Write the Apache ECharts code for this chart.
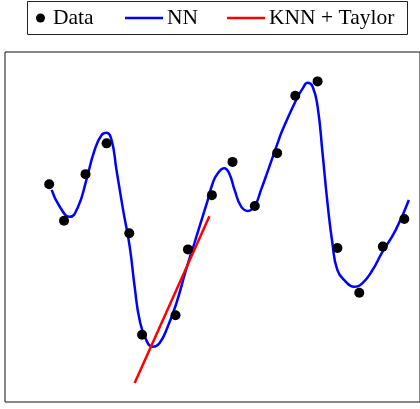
<!DOCTYPE html>
<html>
<head>
<meta charset="utf-8">
<title>NN vs KNN + Taylor</title>
<script src="https://cdn.jsdelivr.net/npm/echarts@6/dist/echarts.min.js"></script>
<style>
  html, body { margin: 0; padding: 0; background: #fff; }
  #chart { width: 420px; height: 409px; }
</style>
</head>
<body>
<div id="chart"></div>
<script>
// noisy samples
const dataX = [1.07, 1.43, 1.95, 2.46, 3.01, 3.32, 4.13, 4.43, 5.01, 5.51, 6.05, 6.59, 7.03, 7.57, 8.05, 8.58, 9.15, 9.67]
const dataY = [6.22, 5.18, 6.51, 7.39, 4.82, 1.92, 2.48, 4.36, 5.91, 6.86, 5.60, 7.11, 8.75, 9.16, 4.40, 3.12, 4.44, 5.23]

// network prediction
const nnX = [1.13, 1.33, 1.57, 1.77, 1.97, 2.17, 2.34, 2.46, 2.58, 2.70, 2.86, 3.02, 3.14, 3.26, 3.42, 3.58, 3.74, 3.94,
  4.15, 4.39, 4.59, 4.71, 4.91, 5.03, 5.15, 5.31, 5.43, 5.56, 5.72, 5.88, 6.04, 6.20, 6.40, 6.60, 6.72, 7.05, 7.21,
  7.33, 7.45, 7.57, 7.69, 7.81, 7.93, 8.05, 8.25, 8.45, 8.65, 8.90, 9.14, 9.46, 9.78]
const nnY = [6.06, 5.57, 5.29, 5.58, 6.34, 7.20, 7.63, 7.69, 7.49, 6.63, 5.49, 4.44, 3.29, 2.34, 1.77, 1.58, 1.68, 2.15,
  2.82, 3.80, 4.55, 5.01, 5.77, 6.25, 6.53, 6.68, 6.53, 6.06, 5.58, 5.46, 5.58, 6.06, 6.72, 7.39, 7.77, 8.63, 8.96,
  9.12, 9.01, 8.44, 7.11, 5.68, 4.53, 3.77, 3.44, 3.29, 3.39, 3.77, 4.29, 4.91, 5.77]

// local linear (taylor) estimate
const knnX = [3.14, 4.95]
const knnY = [0.54, 5.31]

const legendFont = 'Liberation Serif'

const zip = (xs, ys) => xs.map((x, i) => [x, ys[i]])

const chart = echarts.init(document.getElementById('chart'))

chart.setOption({
  animation: false,
  graphic: [{
    type: 'rect',
    shape: { x: 27.5, y: 1.5, width: 380, height: 33 },
    style: { fill: 'none', stroke: '#222', lineWidth: 1 },
    z: 10
  }],
  legend: [
    {
      data: ['Data'],
      left: 36,
      top: 7,
      padding: 0,
      itemWidth: 9,
      itemHeight: 9,
      textStyle: { fontFamily: legendFont, fontSize: 21.5, color: '#000', padding: [0, 0, 0, 3] }
    },
    {
      data: [
        { name: 'NN', icon: 'rect' },
        { name: 'KNN + Taylor', icon: 'rect' }
      ],
      left: 125,
      top: 7,
      padding: 0,
      itemWidth: 38,
      itemHeight: 2.5,
      itemGap: 29,
      textStyle: { fontFamily: legendFont, fontSize: 21.5, color: '#000', padding: [0, 0, 0, -1] }
    }
  ],
  grid: {
    left: 5,
    top: 52,
    width: 416,
    height: 350,
    show: true,
    borderColor: '#111',
    borderWidth: 1
  },
  xAxis: {
    type: 'value',
    min: 0,
    max: 10.05,
    axisLine: { show: false },
    axisTick: { show: false },
    axisLabel: { show: false },
    splitLine: { show: false }
  },
  yAxis: {
    type: 'value',
    min: 0,
    max: 10,
    axisLine: { show: false },
    axisTick: { show: false },
    axisLabel: { show: false },
    splitLine: { show: false }
  },
  series: [
    {
      name: 'NN',
      type: 'line',
      data: zip(nnX, nnY),
      smooth: 0.5,
      symbol: 'none',
      lineStyle: { color: '#0000ff', width: 2.5 },
      itemStyle: { color: '#0000ff' },
      z: 2
    },
    {
      name: 'KNN + Taylor',
      type: 'line',
      data: zip(knnX, knnY),
      symbol: 'none',
      lineStyle: { color: '#ff0000', width: 2.5 },
      itemStyle: { color: '#ff0000' },
      z: 3
    },
    {
      name: 'Data',
      type: 'scatter',
      data: zip(dataX, dataY),
      symbol: 'circle',
      symbolSize: 10,
      itemStyle: { color: '#000', opacity: 1 },
      z: 4
    }
  ]
})
</script>
</body>
</html>
